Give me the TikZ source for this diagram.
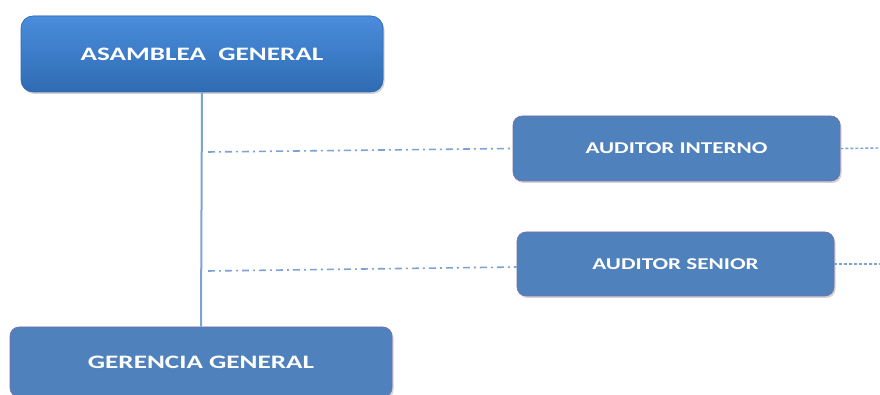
\documentclass[tikz,border=0pt]{standalone}
\usepackage{fontspec}
\setmainfont{Carlito}
\usetikzlibrary{shadows}
\definecolor{boxblue}{HTML}{4F81BD}
\definecolor{boxtop}{HTML}{4A8DDC}
\definecolor{boxbottom}{HTML}{2F6BB3}
\definecolor{boxedge}{HTML}{7A6FA8}
\definecolor{linkblue}{HTML}{7EA3D3}
% wide label text
\newcommand{\widelabel}[2]{\scalebox{#1}[1]{#2}}
\tikzset{
  unit/.style={draw=boxedge, line width=0.6pt, fill=boxblue, rounded corners=9pt,
    text=white, font=\bfseries, drop shadow={opacity=0.35, shadow xshift=1.5pt, shadow yshift=-2pt}},
  topunit/.style={unit, draw=boxbottom, top color=boxtop, bottom color=boxbottom, rounded corners=12pt},
  chain/.style={draw=linkblue, line width=2pt},
  staffline/.style={draw=linkblue, line width=1.6pt, dash pattern=on 7pt off 4pt on 2pt off 4pt},
  sideline/.style={draw=linkblue, line width=1.4pt, dash pattern=on 3pt off 2pt}
}
\begin{document}
\begin{tikzpicture}[x=1pt,y=1pt]
  \useasboundingbox (0,0) rectangle (880,395);
  \clip (0,0) rectangle (880,395);
  \fill[white] (0,0) rectangle (880,395);

  % boxes
  \node[topunit, minimum width=362pt, minimum height=76pt, font=\bfseries\fontsize{19}{22}\selectfont]
    (asamblea) at (202,341) {\widelabel{1.43}{ASAMBLEA\ \ GENERAL}};
  \node[unit, minimum width=327pt, minimum height=65pt, font=\bfseries\fontsize{16.5}{19}\selectfont]
    (interno) at (676.5,246.5) {\widelabel{1.4}{AUDITOR INTERNO}};
  \node[unit, minimum width=317pt, minimum height=64pt, font=\bfseries\fontsize{16.5}{19}\selectfont]
    (senior) at (675.5,131) {\widelabel{1.4}{AUDITOR SENIOR}};
  \node[unit, minimum width=382pt, minimum height=70pt, font=\bfseries\fontsize{19}{22}\selectfont]
    (gerencia) at (201,33) {\widelabel{1.43}{GERENCIA GENERAL}};

  % line of command
  \draw[chain] (asamblea.south) -- (gerencia.north);

  % staff links
  \coordinate (s1) at (208,243);
  \coordinate (s2) at (208,124);
  \coordinate (e1) at (880,247);
  \coordinate (e2) at (880,131);
  \draw[staffline] (s1) -- (interno.west);
  \draw[staffline] (s2) -- ([yshift=-3pt]senior.west);
  \draw[sideline] (interno.east) -- (e1);
  \draw[sideline] (senior.east) -- (e2);
\end{tikzpicture}
\end{document}
